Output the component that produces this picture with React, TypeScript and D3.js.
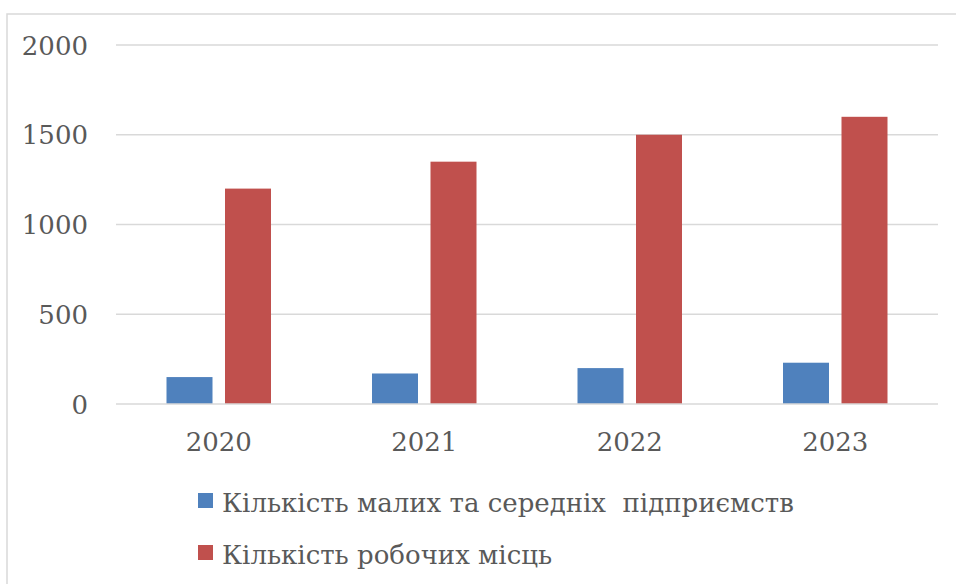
import React from "react";
import * as d3 from "d3";

const categories = ["2020", "2021", "2022", "2023"];
const seriesNames = [
  "Кількість малих та середніх  підприємств",
  "Кількість робочих місць",
];
const smeCounts = [150, 170, 200, 230];
const jobCounts = [1200, 1350, 1500, 1600];
const yTicks = [0, 500, 1000, 1500, 2000];
const colors = ["#4f81bd", "#c0504d"];

const W = 956;
const H = 584;
const plotLeft = 116;
const plotRight = 938;
const yTop = 45;
const yBottom = 404;
const FONT = "'DejaVu Serif', 'Noto Serif', serif";
const TEXT = "#595959";
const GRID = "#d9d9d9";

export default function App() {
  const x = d3.scaleBand<string>().domain(categories).range([plotLeft, plotRight]);
  const y = d3.scaleLinear().domain([0, 2000]).range([yBottom, yTop]);
  const barW = 46;
  const gap = 12.5;
  const series = [smeCounts, jobCounts];

  return (
    <svg
      width={W}
      height={H}
      style={{ position: "absolute", left: 0, top: 0, display: "block", background: "#fff", fontFamily: FONT }}
    >
      <rect x={7} y={14} width={1000} height={1000} fill="#fff" stroke={GRID} strokeWidth={1.5} />
      {yTicks.map((t) => (
        <g key={t}>
          {t !== 0 && (
            <line x1={plotLeft} x2={plotRight} y1={y(t)} y2={y(t)} stroke={GRID} strokeWidth={1.3} />
          )}
          <text
            x={88}
            y={y(t)}
            dy="0.37em"
            textAnchor="end"
            style={{ fontFamily: FONT }}
            fontSize={26}
            fill={TEXT}
          >
            {t}
          </text>
        </g>
      ))}
      {categories.map((c, i) => {
        const cx = (x(c) as number) + x.bandwidth() / 2;
        return (
          <g key={c}>
            {series.map((s, j) => {
              const bx = j === 0 ? cx - gap / 2 - barW : cx + gap / 2;
              return (
                <rect
                  key={j}
                  x={bx}
                  y={y(s[i])}
                  width={barW}
                  height={yBottom - y(s[i])}
                  fill={colors[j]}
                />
              );
            })}
            <text
              x={cx}
              y={451}
              textAnchor="middle"
              style={{ fontFamily: FONT }}
              fontSize={26}
              fill={TEXT}
            >
              {c}
            </text>
          </g>
        );
      })}
      <line x1={plotLeft} x2={plotRight} y1={yBottom} y2={yBottom} stroke={GRID} strokeWidth={1.5} />
      {seriesNames.map((n, j) => (
        <g key={n}>
          <rect x={198} y={493 + j * 52} width={15} height={15} fill={colors[j]} />
          <text
            x={222}
            y={512 + j * 52}
            style={{ fontFamily: FONT, whiteSpace: "pre" }}
            fontSize={26}
            fill={TEXT}
          >
            {n}
          </text>
        </g>
      ))}
    </svg>
  );
}
